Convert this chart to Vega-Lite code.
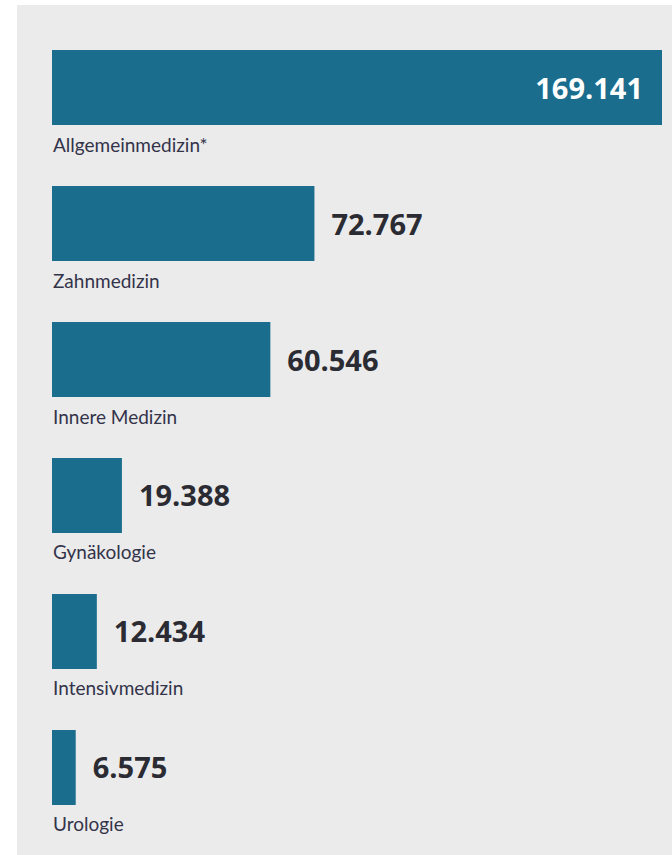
{
  "$schema": "https://vega.github.io/schema/vega-lite/v6.json",
  "autosize": "none",
  "width": 655,
  "height": 850,
  "padding": {"left": 17, "top": 5, "right": 0, "bottom": 0},
  "background": "#ffffff",
  "config": {
    "view": {"fill": "#ebebeb", "stroke": null},
    "locale": {"number": {"decimal": ",", "thousands": ".", "grouping": [3], "currency": ["", " €"]}}
  },
  "data": {
    "values": [
      {"category": "Allgemeinmedizin*", "value": 169141},
      {"category": "Zahnmedizin", "value": 72767},
      {"category": "Innere Medizin", "value": 60546},
      {"category": "Gynäkologie", "value": 19388},
      {"category": "Intensivmedizin", "value": 12434},
      {"category": "Urologie", "value": 6575}
    ]
  },
  "encoding": {
    "y": {
      "field": "category",
      "type": "nominal",
      "sort": null,
      "axis": null,
      "scale": {"range": [45, 800], "paddingInner": 0.4485, "paddingOuter": 0}
    }
  },
  "layer": [
    {
      "mark": {"type": "bar", "color": "#1b6d8e"},
      "encoding": {
        "x": {"field": "value", "type": "quantitative", "axis": null,
              "scale": {"domain": [0, 169141], "range": [35, 645], "nice": false}}
      }
    },
    {
      "transform": [{"filter": "datum.value < 100000"}],
      "mark": {"type": "text", "align": "left", "baseline": "middle", "dx": 17, "dy": 2,
               "font": "Open Sans", "fontWeight": "bold", "fontSize": 29, "color": "#2b2b33"},
      "encoding": {
        "x": {"field": "value", "type": "quantitative"},
        "text": {"field": "value", "type": "quantitative", "format": ",d"}
      }
    },
    {
      "transform": [{"filter": "datum.value >= 100000"}],
      "mark": {"type": "text", "align": "right", "baseline": "middle", "dx": -19, "dy": 2,
               "font": "Open Sans", "fontWeight": "bold", "fontSize": 29, "color": "#ffffff"},
      "encoding": {
        "x": {"field": "value", "type": "quantitative"},
        "text": {"field": "value", "type": "quantitative", "format": ",d"}
      }
    },
    {
      "mark": {"type": "text", "align": "left", "baseline": "alphabetic", "dx": 1, "dy": 64,
               "font": "Lato", "fontSize": 19, "color": "#33334a"},
      "encoding": {
        "x": {"datum": 0, "type": "quantitative"},
        "text": {"field": "category", "type": "nominal"}
      }
    }
  ]
}
